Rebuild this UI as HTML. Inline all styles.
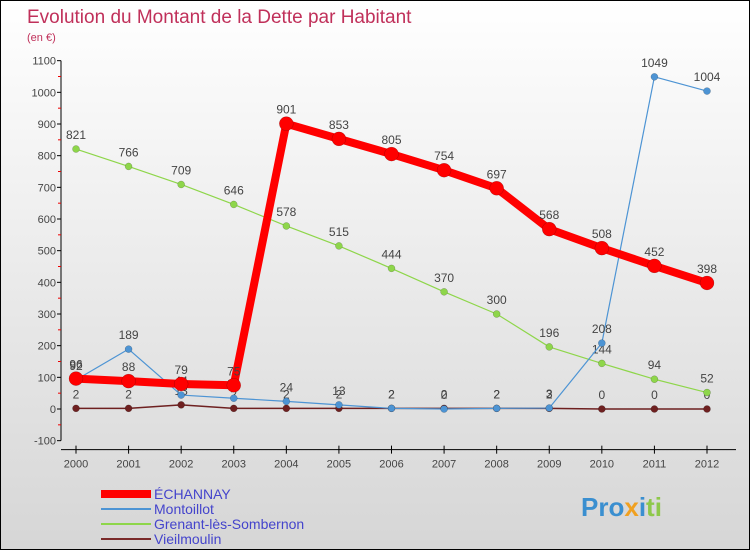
<!DOCTYPE html>
<html><head><meta charset="utf-8"><style>
body{margin:0;width:750px;height:550px;overflow:hidden;font-family:"Liberation Sans",sans-serif}
#c{position:absolute;left:0;top:0;width:748px;height:548px;border:1px solid #000;background:linear-gradient(#ffffff,#d6d6d6)}
</style></head><body>
<div id="c">
<svg id="svg" width="748" height="548" xmlns="http://www.w3.org/2000/svg">
<text x="26" y="22" font-size="19" fill="#c0305a">Evolution du Montant de la Dette par Habitant</text>
<text x="26" y="40" font-size="11" fill="#c0305a">(en €)</text>
<g id="axes"></g><g id="series"></g>
<g font-size="14" fill="#4444cc">
<line x1="100" y1="493" x2="150" y2="493" stroke="#ff0000" stroke-width="8"/>
<text x="153" y="498">ÉCHANNAY</text>
<line x1="100" y1="508" x2="150" y2="508" stroke="#4d94d4" stroke-width="2"/>
<text x="153" y="513">Montoillot</text>
<line x1="100" y1="523" x2="150" y2="523" stroke="#8ed64a" stroke-width="2"/>
<text x="153" y="528">Grenant-lès-Sombernon</text>
<line x1="100" y1="538" x2="150" y2="538" stroke="#7a2a2a" stroke-width="2"/>
<text x="153" y="543">Vieilmoulin</text>
</g>
<text x="580" y="515" font-size="26" font-weight="bold"><tspan fill="#3a8fd0">Pro</tspan><tspan fill="#f0a020">x</tspan><tspan fill="#3a8fd0">i</tspan><tspan fill="#8ec84a">ti</tspan></text>
</svg></div>
<script>
const years=[2000,2001,2002,2003,2004,2005,2006,2007,2008,2009,2010,2011,2012];
const echannay=[96,88,79,75,901,853,805,754,697,568,508,452,398];
const montoillot=[92,189,44,34,24,13,2,0,2,3,208,1049,1004];
const grenant=[821,766,709,646,578,515,444,370,300,196,144,94,52];
const vieilmoulin=[2,2,13,2,2,2,2,2,2,2,0,0,0];
const yTicks=[-100,0,100,200,300,400,500,600,700,800,900,1000,1100];
const NS="http://www.w3.org/2000/svg";
const x=i=>75+i*(706-75)/12;
const y=v=>408-v*(380/1200);
function mk(t,a,p){const e=document.createElementNS(NS,t);for(const k in a)e.setAttribute(k,a[k]);p.appendChild(e);return e;}
const ax=document.getElementById('axes'),sg=document.getElementById('series');
const yl=mk('line',{x1:60,y1:y(1100),x2:60,y2:y(-100),stroke:'#000'},ax);


const xl=mk('line',{x1:60,y1:y(-100)+9,x2:735,y2:y(-100)+9,stroke:'#000'},ax);


yTicks.forEach(v=>{
 mk('line',{x1:56,y1:y(v),x2:60,y2:y(v),stroke:'#000'},ax);
 if(v<1100) mk('line',{x1:57,y1:y(v+50),x2:60,y2:y(v+50),stroke:'#e00'},ax);
 const t=mk('text',{x:55,y:y(v)+4,'text-anchor':'end','font-size':11,fill:'#444'},ax);
 t.textContent=v;
 
 
});
years.forEach((yr,i)=>{
 mk('line',{x1:x(i),y1:y(-100)+5,x2:x(i),y2:y(-100)+13,stroke:'#000'},ax);
 const t=mk('text',{x:x(i),y:y(-100)+27,'text-anchor':'middle','font-size':11,fill:'#444'},ax);
 t.textContent=yr;
 
 
});
function series(d,name,col,w,r){
 const g=mk('g',{},sg);
 
 
 mk('polyline',{points:d.map((v,i)=>x(i)+','+y(v)).join(' '),fill:'none',stroke:col,'stroke-width':w,'stroke-linejoin':'round'},g);
 d.forEach((v,i)=>{
  const c=mk('circle',{cx:x(i),cy:y(v),r:r,fill:col,stroke:'rgba(0,0,0,0.3)','stroke-width':0.5},g);
  
  
  const t=mk('text',{x:x(i),y:y(v)-10,'text-anchor':'middle','font-size':12,fill:'#444'},g);
  t.textContent=v;
 });
}
series(vieilmoulin,'vieilmoulin','#6e2020',1.5,3.5);
series(grenant,'grenant','#8ed64a',1.2,3.5);
series(montoillot,'montoillot','#4d94d4',1.2,3.5);
series(echannay,'echannay','#ff0000',8,7);
</script>
</body></html>
